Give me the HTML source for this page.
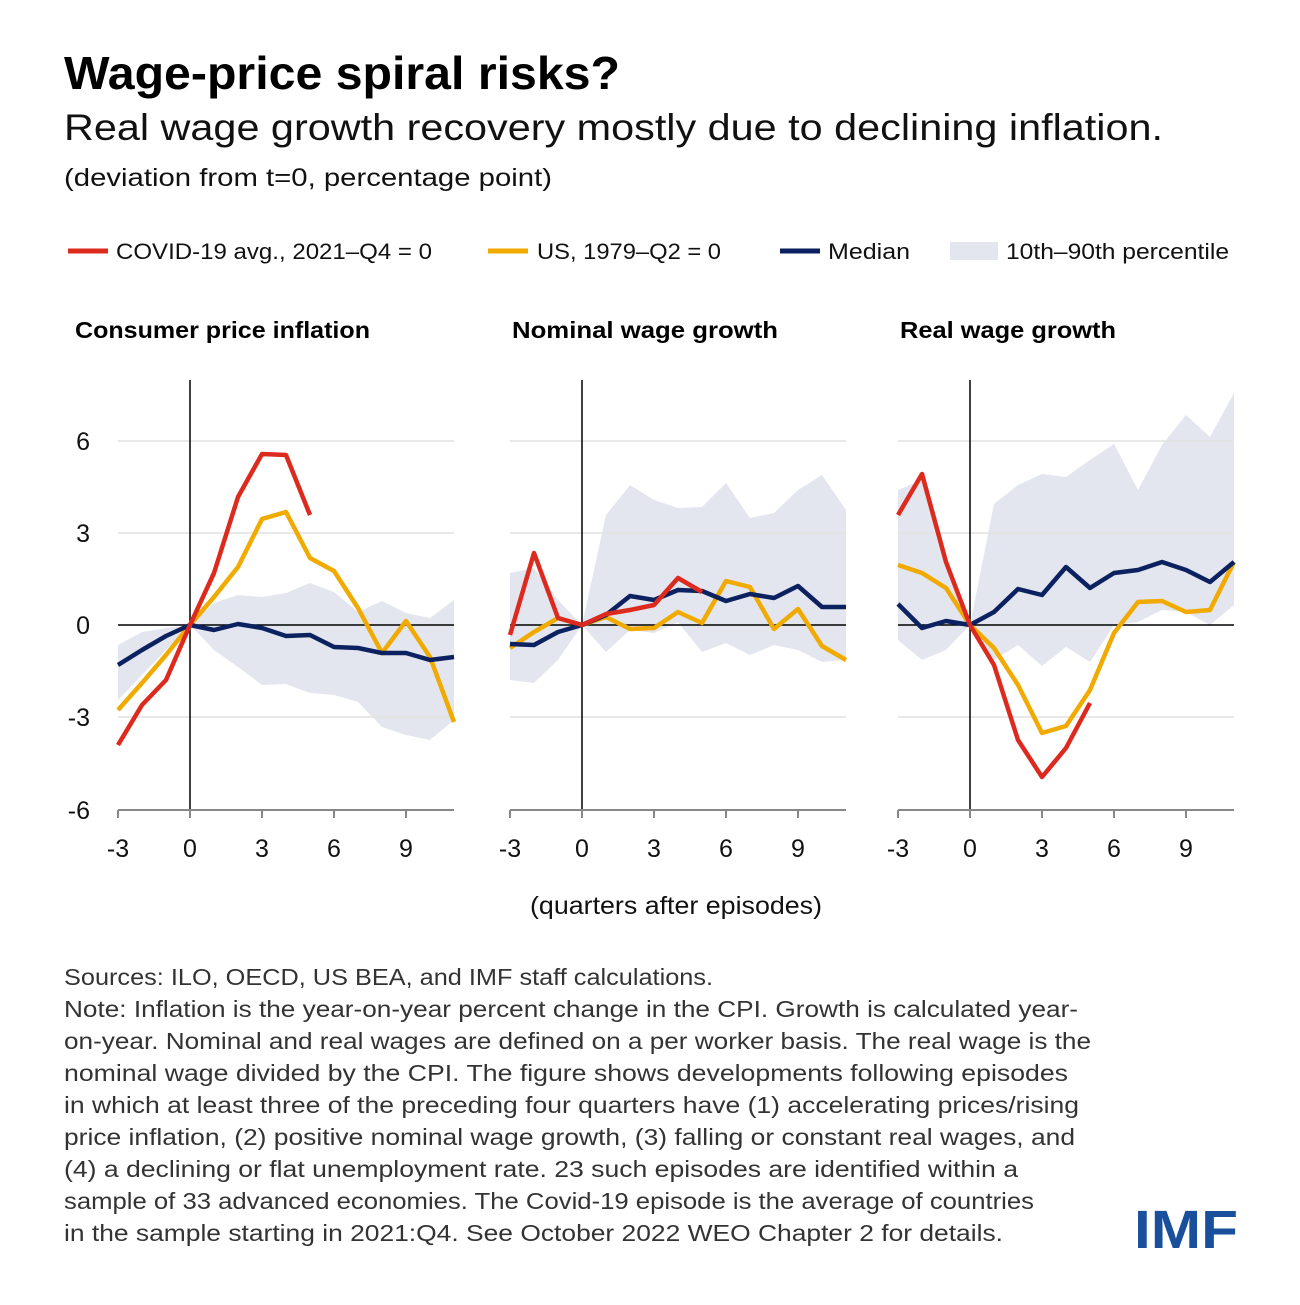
<!DOCTYPE html>
<html><head><meta charset="utf-8"><style>
html,body{margin:0;padding:0;background:#fff;}
body{width:1300px;height:1300px;overflow:hidden;font-family:"Liberation Sans",sans-serif;}
</style></head><body>
<svg width="1300" height="1300" xmlns="http://www.w3.org/2000/svg" font-family="Liberation Sans, sans-serif">
<text x="64" y="89" font-size="46" font-weight="bold" fill="#000" textLength="556" lengthAdjust="spacingAndGlyphs">Wage-price spiral risks?</text>
<text x="64" y="140" font-size="37" fill="#111" textLength="1099" lengthAdjust="spacingAndGlyphs">Real wage growth recovery mostly due to declining inflation.</text>
<text x="64" y="186" font-size="25" fill="#111" textLength="488" lengthAdjust="spacingAndGlyphs">(deviation from t=0, percentage point)</text>
<!-- legend -->
<line x1="68" y1="251" x2="108" y2="251" stroke="#dd2a1f" stroke-width="5"/>
<text x="116" y="259" font-size="22" fill="#111" textLength="316" lengthAdjust="spacingAndGlyphs">COVID-19 avg., 2021–Q4 = 0</text>
<line x1="488" y1="251" x2="528" y2="251" stroke="#f0aa00" stroke-width="5"/>
<text x="537" y="259" font-size="22" fill="#111" textLength="184" lengthAdjust="spacingAndGlyphs">US, 1979–Q2 = 0</text>
<line x1="780" y1="251" x2="820" y2="251" stroke="#0b2160" stroke-width="5"/>
<text x="828" y="259" font-size="22" fill="#111" textLength="82" lengthAdjust="spacingAndGlyphs">Median</text>
<rect x="950" y="242" width="48" height="18" fill="#e3e6ee"/>
<text x="1006" y="259" font-size="22" fill="#111" textLength="223" lengthAdjust="spacingAndGlyphs">10th–90th percentile</text>
<!-- titles -->
<text x="75" y="338" font-size="23" font-weight="bold" fill="#000" textLength="295" lengthAdjust="spacingAndGlyphs">Consumer price inflation</text>
<text x="512" y="338" font-size="23" font-weight="bold" fill="#000" textLength="266" lengthAdjust="spacingAndGlyphs">Nominal wage growth</text>
<text x="900" y="338" font-size="23" font-weight="bold" fill="#000" textLength="216" lengthAdjust="spacingAndGlyphs">Real wage growth</text>
<!-- y labels -->
<g font-size="25" fill="#111" text-anchor="end">
<text x="90" y="450">6</text><text x="90" y="542">3</text><text x="90" y="634">0</text><text x="90" y="726">-3</text><text x="90" y="819">-6</text>
</g>
<!-- panel 1 -->
<polygon fill="#e3e6ee" points="118,645 142,632 166,628 190,625 214,603 238,595 262,597 286,593 310,583 334,592 358,612 382,601 406,613 430,618 454,600 454,720 430,740 406,735 382,727 358,702 334,695 310,693 286,684 262,685 238,667 214,650 190,625 166,650 142,675 118,700"/>
<g stroke="#e2e2e2" stroke-width="1.5"><line x1="118" y1="441" x2="454" y2="441"/><line x1="118" y1="533" x2="454" y2="533"/><line x1="118" y1="717" x2="454" y2="717"/></g>
<line x1="118" y1="625" x2="454" y2="625" stroke="#000" stroke-width="1.5"/>
<line x1="190" y1="380" x2="190" y2="810" stroke="#000" stroke-width="1.5"/>
<line x1="118" y1="810" x2="454" y2="810" stroke="#888" stroke-width="2"/>
<g stroke="#888" stroke-width="2"><line x1="118" y1="810" x2="118" y2="818"/><line x1="190" y1="810" x2="190" y2="818"/><line x1="262" y1="810" x2="262" y2="818"/><line x1="334" y1="810" x2="334" y2="818"/><line x1="406" y1="810" x2="406" y2="818"/></g>
<polyline fill="none" stroke="#f0aa00" stroke-width="4.5" stroke-linejoin="round" points="118,710 142,683 166,655 190,625 214,597 238,567 262,519 286,512 310,558 334,571 358,608 382,653 406,621 430,657 454,722"/>
<polyline fill="none" stroke="#0b2160" stroke-width="4.5" stroke-linejoin="round" points="118,665 142,650 166,636 190,625 214,630 238,624 262,628 286,636 310,635 334,647 358,648 382,653 406,653 430,660 454,657"/>
<polyline fill="none" stroke="#dd2a1f" stroke-width="4.5" stroke-linejoin="round" points="118,745 142,705 166,680 190,625 214,573 238,497 262,454 286,455 310,515"/>
<!-- panel 2 -->
<polygon fill="#e3e6ee" points="510,573 534,568 558,600 582,625 606,515 630,485 654,500 678,508 702,507 726,483 750,518 774,513 798,490 822,475 846,510 846,660 822,662 798,650 774,645 750,655 726,643 702,652 678,622 654,633 630,630 606,652 582,625 558,660 534,683 510,680"/>
<g stroke="#e2e2e2" stroke-width="1.5"><line x1="510" y1="441" x2="846" y2="441"/><line x1="510" y1="533" x2="846" y2="533"/><line x1="510" y1="717" x2="846" y2="717"/></g>
<line x1="510" y1="625" x2="846" y2="625" stroke="#000" stroke-width="1.5"/>
<line x1="582" y1="380" x2="582" y2="810" stroke="#000" stroke-width="1.5"/>
<line x1="510" y1="810" x2="846" y2="810" stroke="#888" stroke-width="2"/>
<g stroke="#888" stroke-width="2"><line x1="510" y1="810" x2="510" y2="818"/><line x1="582" y1="810" x2="582" y2="818"/><line x1="654" y1="810" x2="654" y2="818"/><line x1="726" y1="810" x2="726" y2="818"/><line x1="798" y1="810" x2="798" y2="818"/></g>
<polyline fill="none" stroke="#f0aa00" stroke-width="4.5" stroke-linejoin="round" points="510,648 534,632 558,618 582,625 606,617 630,629 654,628 678,612 702,623 726,581 750,587 774,629 798,609 822,646 846,660"/>
<polyline fill="none" stroke="#0b2160" stroke-width="4.5" stroke-linejoin="round" points="510,644 534,645 558,632 582,625 606,615 630,596 654,600 678,590 702,591 726,601 750,594 774,598 798,586 822,607 846,607"/>
<polyline fill="none" stroke="#dd2a1f" stroke-width="4.5" stroke-linejoin="round" points="510,635 534,553 558,618 582,625 606,614 630,610 654,605 678,578 702,592"/>
<!-- panel 3 -->
<polygon fill="#e3e6ee" points="898,490 922,480 946,560 970,625 994,504 1018,485 1042,474 1066,477 1090,460 1114,444 1138,490 1162,445 1186,415 1210,437 1234,393 1234,605 1210,625 1186,612 1162,610 1138,622 1114,625 1090,662 1066,647 1042,666 1018,645 994,660 970,625 946,650 922,660 898,640"/>
<g stroke="#e2e2e2" stroke-width="1.5"><line x1="898" y1="441" x2="1234" y2="441"/><line x1="898" y1="533" x2="1234" y2="533"/><line x1="898" y1="717" x2="1234" y2="717"/></g>
<line x1="898" y1="625" x2="1234" y2="625" stroke="#000" stroke-width="1.5"/>
<line x1="970" y1="380" x2="970" y2="810" stroke="#000" stroke-width="1.5"/>
<line x1="898" y1="810" x2="1234" y2="810" stroke="#888" stroke-width="2"/>
<g stroke="#888" stroke-width="2"><line x1="898" y1="810" x2="898" y2="818"/><line x1="970" y1="810" x2="970" y2="818"/><line x1="1042" y1="810" x2="1042" y2="818"/><line x1="1114" y1="810" x2="1114" y2="818"/><line x1="1186" y1="810" x2="1186" y2="818"/></g>
<polyline fill="none" stroke="#f0aa00" stroke-width="4.5" stroke-linejoin="round" points="898,565 922,573 946,588 970,625 994,648 1018,685 1042,733 1066,726 1090,690 1114,633 1138,602 1162,601 1186,612 1210,610 1234,562"/>
<polyline fill="none" stroke="#0b2160" stroke-width="4.5" stroke-linejoin="round" points="898,604 922,628 946,621 970,625 994,612 1018,589 1042,595 1066,567 1090,588 1114,573 1138,570 1162,562 1186,570 1210,582 1234,562"/>
<polyline fill="none" stroke="#dd2a1f" stroke-width="4.5" stroke-linejoin="round" points="898,515 922,474 946,562 970,625 994,665 1018,740 1042,777 1066,748 1090,703"/>
<!-- x labels -->
<g font-size="25" fill="#111" text-anchor="middle">
<text x="118" y="857">-3</text><text x="190" y="857">0</text><text x="262" y="857">3</text><text x="334" y="857">6</text><text x="406" y="857">9</text>
<text x="510" y="857">-3</text><text x="582" y="857">0</text><text x="654" y="857">3</text><text x="726" y="857">6</text><text x="798" y="857">9</text>
<text x="898" y="857">-3</text><text x="970" y="857">0</text><text x="1042" y="857">3</text><text x="1114" y="857">6</text><text x="1186" y="857">9</text>
</g>
<text x="530" y="914" font-size="25" fill="#111" textLength="292" lengthAdjust="spacingAndGlyphs">(quarters after episodes)</text>
<g font-size="23" fill="#333" lengthAdjust="spacingAndGlyphs">
<text x="64" y="985" textLength="649" lengthAdjust="spacingAndGlyphs">Sources: ILO, OECD, US BEA, and IMF staff calculations.</text>
<text x="64" y="1017" textLength="1014" lengthAdjust="spacingAndGlyphs">Note: Inflation is the year-on-year percent change in the CPI. Growth is calculated year-</text>
<text x="64" y="1049" textLength="1027" lengthAdjust="spacingAndGlyphs">on-year. Nominal and real wages are defined on a per worker basis. The real wage is the</text>
<text x="64" y="1081" textLength="1004" lengthAdjust="spacingAndGlyphs">nominal wage divided by the CPI. The figure shows developments following episodes</text>
<text x="64" y="1113" textLength="1015" lengthAdjust="spacingAndGlyphs">in which at least three of the preceding four quarters have (1) accelerating prices/rising</text>
<text x="64" y="1145" textLength="1011" lengthAdjust="spacingAndGlyphs">price inflation, (2) positive nominal wage growth, (3) falling or constant real wages, and</text>
<text x="64" y="1177" textLength="954" lengthAdjust="spacingAndGlyphs">(4) a declining or flat unemployment rate. 23 such episodes are identified within a</text>
<text x="64" y="1209" textLength="970" lengthAdjust="spacingAndGlyphs">sample of 33 advanced economies. The Covid-19 episode is the average of countries</text>
<text x="64" y="1241" textLength="939" lengthAdjust="spacingAndGlyphs">in the sample starting in 2021:Q4. See October 2022 WEO Chapter 2 for details.</text>
</g>
<text x="1134" y="1248" font-size="54" font-weight="bold" fill="#1a4f9c" textLength="104" lengthAdjust="spacingAndGlyphs">IMF</text>
</svg>
</body></html>
